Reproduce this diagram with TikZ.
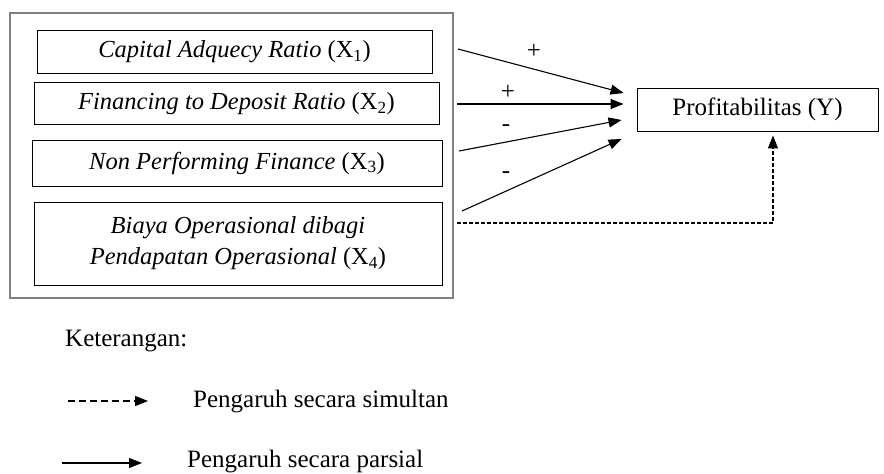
\documentclass[tikz,border=0pt]{standalone}
\usepackage{fontspec}
\setmainfont{Liberation Serif}
\usepackage{tikz}
\usetikzlibrary{arrows.meta, positioning}

\begin{document}
\begin{tikzpicture}[x=1pt, y=-1pt,
    varbox/.style={draw, line width=0.9pt, inner sep=0pt, align=center, font=\fontsize{24.5}{31}\selectfont},
    lbl/.style={inner sep=0pt, font=\fontsize{25}{30}\selectfont},
    conn/.style={line width=1.1pt, -{Triangle[length=13pt, width=10pt]}},
    simconn/.style={conn, dash pattern=on 4pt off 2pt}]
\useasboundingbox (0,0) rectangle (884,474);
% Independent variables
\draw[gray, line width=1.2pt] (10,13) rectangle (453,298);
\node[varbox, minimum width=395pt, minimum height=43pt] (car) at (234.5,51.5) {\textit{Capital Adquecy Ratio} (X\textsubscript{1})};
\node[varbox, minimum width=405pt, minimum height=42pt] (fdr) at (236.5,103.5) {\textit{Financing to Deposit Ratio} (X\textsubscript{2})};
\node[varbox, minimum width=410pt, minimum height=46pt] (npf) at (237,163) {\textit{Non Performing Finance} (X\textsubscript{3})};
\node[varbox, minimum width=408pt, minimum height=83pt] (bopo) at (238,243.5) {\textit{Biaya Operasional dibagi}\\\textit{Pendapatan Operasional} (X\textsubscript{4})};

% Dependent variable
\node[varbox, font=\fontsize{25}{30}\selectfont, minimum width=241pt, minimum height=43pt] (prof) at (757.5,109.5) {Profitabilitas (Y)};

% Partial effects
\coordinate (s1) at (458,49);
\coordinate (s2) at (457,104);
\coordinate (s3) at (459,151);
\coordinate (s4) at (462,211);
\coordinate (s5) at (457,223);
\draw[conn] (s1) -- ([xshift=-13pt, yshift=16.5pt]prof.west);
\draw[conn] (s2) -- ([xshift=-13pt, yshift=5.5pt]prof.west);
\draw[conn] (s3) -- ([xshift=-15pt, yshift=-10.5pt]prof.west);
\draw[conn] (s4) -- ([xshift=-15pt, yshift=-29.5pt]prof.west);
\node[lbl] (p1) at (534,51) {+};
\node[lbl] (p2) at (508,92) {+};
\node[lbl] (p3) at (506,128) {-};
\node[lbl] (p4) at (506,175) {-};

% Simultaneous effect
\draw[simconn] (s5) -| ([xshift=15.5pt, yshift=-4pt]prof.south);

% Keterangan
\node[lbl, anchor=west] (ket) at (65,341) {Keterangan:};
\node[lbl, anchor=west] (simul) at (193,402) {Pengaruh secara simultan};
\node[lbl, anchor=west] (pars) at (187,462) {Pengaruh secara parsial};
\coordinate (l1) at (68,401);
\coordinate (l2) at (62,463);
\draw[conn, dash pattern=on 7pt off 4pt] (l1) -- ([xshift=-45pt, yshift=1pt]simul.west);
\draw[conn] (l2) -- ([xshift=-45pt, yshift=-1pt]pars.west);
\end{tikzpicture}
\end{document}
